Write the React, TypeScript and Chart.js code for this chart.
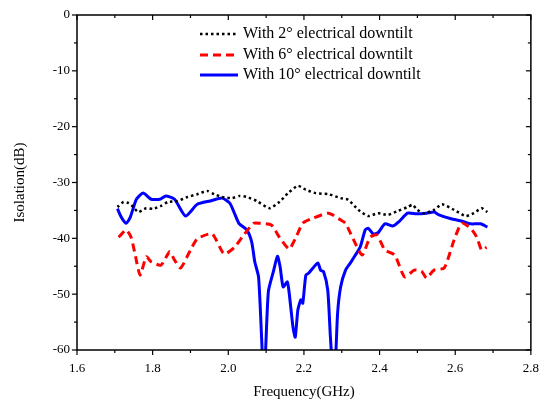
import React, { useEffect, useRef } from "react";
import { Chart, registerables } from "chart.js";

Chart.register(...registerables);

// ---- data (frequency in GHz, isolation in dB) ----
const freq2 = [1.707, 1.723, 1.736, 1.749, 1.762, 1.783, 1.801, 1.822, 1.840, 1.866, 1.892, 1.918, 1.944, 1.963, 1.984, 2.010, 2.030, 2.049, 2.075, 2.109, 2.135, 2.158, 2.184, 2.205, 2.231, 2.265, 2.297, 2.317, 2.344, 2.370, 2.396, 2.422, 2.448, 2.474, 2.487, 2.500, 2.518, 2.544, 2.565, 2.597, 2.628, 2.649, 2.670, 2.685];
const iso2 = [-34.4, -33.5, -33.7, -34.4, -35.3, -34.6, -34.7, -34.2, -33.5, -33.3, -32.6, -32.1, -31.5, -32.1, -32.6, -32.8, -32.4, -32.6, -33.3, -34.6, -33.5, -31.9, -30.6, -31.3, -31.9, -32.1, -32.8, -33.1, -34.9, -36.0, -35.5, -35.8, -35.1, -34.4, -34.0, -34.9, -35.5, -34.9, -33.9, -34.9, -36.0, -35.5, -34.6, -35.3];

const freq6 = [1.710, 1.730, 1.743, 1.754, 1.767, 1.783, 1.796, 1.822, 1.845, 1.858, 1.874, 1.900, 1.918, 1.957, 1.989, 2.015, 2.041, 2.067, 2.083, 2.114, 2.135, 2.161, 2.179, 2.197, 2.224, 2.265, 2.297, 2.310, 2.328, 2.354, 2.375, 2.393, 2.414, 2.440, 2.466, 2.492, 2.511, 2.524, 2.544, 2.571, 2.597, 2.617, 2.641, 2.657, 2.670, 2.683];
const iso6 = [-39.8, -38.5, -39.8, -43.0, -46.6, -43.3, -44.2, -44.8, -42.4, -43.9, -45.3, -42.1, -40.1, -39.2, -42.8, -41.7, -39.4, -37.3, -37.3, -37.6, -39.8, -41.9, -39.8, -37.3, -36.4, -35.5, -36.7, -37.3, -39.8, -43.0, -39.8, -39.4, -42.1, -43.0, -46.9, -45.7, -45.9, -47.1, -45.7, -45.3, -40.3, -37.3, -38.2, -39.8, -42.1, -41.6];

const freq10 = [1.707, 1.717, 1.730, 1.741, 1.757, 1.775, 1.796, 1.819, 1.835, 1.858, 1.887, 1.918, 1.952, 1.984, 2.004, 2.015, 2.028, 2.049, 2.062, 2.070, 2.080, 2.088, 2.093, 2.098, 2.106, 2.119, 2.130, 2.137, 2.145, 2.156, 2.161, 2.171, 2.177, 2.184, 2.192, 2.197, 2.205, 2.213, 2.224, 2.237, 2.244, 2.252, 2.263, 2.270, 2.278, 2.284, 2.289, 2.297, 2.310, 2.323, 2.336, 2.349, 2.362, 2.370, 2.383, 2.396, 2.414, 2.435, 2.453, 2.474, 2.497, 2.524, 2.544, 2.557, 2.589, 2.617, 2.641, 2.667, 2.685];
const iso10 = [-34.7, -36.2, -37.3, -36.2, -33.0, -31.9, -33.0, -33.0, -32.4, -33.0, -36.0, -33.9, -33.3, -32.8, -33.7, -35.3, -37.3, -38.5, -40.7, -44.2, -46.9, -57.7, -65.0, -61.0, -49.5, -46.0, -43.2, -45.1, -48.7, -47.8, -49.8, -55.9, -57.7, -52.8, -51.0, -51.6, -46.6, -46.2, -45.3, -44.4, -45.7, -46.0, -49.3, -57.7, -65.0, -61.0, -53.4, -48.7, -45.7, -44.4, -43.0, -41.5, -38.5, -38.2, -39.2, -39.0, -37.4, -37.8, -36.9, -35.5, -35.6, -35.5, -35.3, -35.8, -36.5, -36.9, -37.4, -37.4, -38.0];

const seriesNames = ["With 2\u00b0 electrical downtilt", "With 6\u00b0 electrical downtilt", "With 10\u00b0 electrical downtilt"];
const xTickLabels = [1.6, 1.8, 2.0, 2.2, 2.4, 2.6, 2.8];
const xMinorTicks = [1.7, 1.9, 2.1, 2.3, 2.5, 2.7];
const yTickLabels = [0, -10, -20, -30, -40, -50, -60];
const yMinorTicks = [-5, -15, -25, -35, -45, -55];

const SERIF = "'Liberation Serif', 'Times New Roman', serif";

const toPoints = (xs: number[], ys: number[]) => xs.map((x, i) => ({ x, y: ys[i] }));

const framePlugin = {
  id: "frameAndLegend",
  afterDraw(chart: any) {
    const { ctx, chartArea, scales } = chart;
    const { left, right, top, bottom } = chartArea;
    const xs = scales.x;
    const ys = scales.y;
    ctx.save();
    ctx.strokeStyle = "#000";
    ctx.lineWidth = 1.5;
    ctx.setLineDash([]);
    ctx.strokeRect(left, top, right - left, bottom - top);
    ctx.lineWidth = 1.2;
    const line = (x1: number, y1: number, x2: number, y2: number) => {
      ctx.beginPath();
      ctx.moveTo(x1, y1);
      ctx.lineTo(x2, y2);
      ctx.stroke();
    };
    xTickLabels.forEach((v) => {
      const px = xs.getPixelForValue(v);
      line(px, bottom, px, bottom + 5);
      line(px, top, px, top + 5);
    });
    xMinorTicks.forEach((v) => {
      const px = xs.getPixelForValue(v);
      line(px, bottom, px, bottom + 3);
      line(px, top, px, top + 3);
    });
    yTickLabels.forEach((v) => {
      const py = ys.getPixelForValue(v);
      line(left - 5, py, left, py);
      line(right - 5, py, right, py);
    });
    yMinorTicks.forEach((v) => {
      const py = ys.getPixelForValue(v);
      line(left - 3, py, left, py);
      line(right - 3, py, right, py);
    });

    // legend
    const rows = [34, 55, 75];
    chart.data.datasets.forEach((ds: any, i: number) => {
      const y = rows[i];
      ctx.strokeStyle = ds.borderColor;
      ctx.lineWidth = ds.borderWidth;
      ctx.setLineDash(ds.borderDash || []);
      line(200, y, 238, y);
      ctx.setLineDash([]);
      ctx.fillStyle = "#000";
      ctx.font = `16px ${SERIF}`;
      ctx.textAlign = "left";
      ctx.textBaseline = "middle";
      ctx.fillText(ds.label, 243, y);
    });
    ctx.restore();
  },
};

export default function App() {
  const ref = useRef<HTMLCanvasElement | null>(null);
  useEffect(() => {
    if (!ref.current) return;
    const chart = new Chart(ref.current, {
      type: "line",
      data: {
        datasets: [
          {
            label: seriesNames[0],
            data: toPoints(freq2, iso2),
            borderColor: "#000000",
            borderWidth: 2.5,
            borderDash: [2.5, 3],
            pointRadius: 0,
            tension: 0.2,
            clip: 0,
          },
          {
            label: seriesNames[1],
            data: toPoints(freq6, iso6),
            borderColor: "#ff0000",
            borderWidth: 3,
            borderDash: [8, 5],
            pointRadius: 0,
            tension: 0.2,
            clip: 0,
          },
          {
            label: seriesNames[2],
            data: toPoints(freq10, iso10),
            borderColor: "#0000ff",
            borderWidth: 3,
            pointRadius: 0,
            tension: 0.2,
            clip: 0,
          },
        ],
      },
      options: {
        animation: false,
        responsive: false,
        devicePixelRatio: 1,
        layout: { padding: { top: 15, right: 8, left: 0, bottom: 0 } },
        plugins: { legend: { display: false }, tooltip: { enabled: false } },
        scales: {
          x: {
            type: "linear",
            min: 1.6,
            max: 2.8,
            afterBuildTicks: (s: any) => {
              s.ticks = xTickLabels.map((v) => ({ value: v }));
            },
            afterFit: (s: any) => {
              s.height = 57;
            },
            grid: { display: false, drawTicks: true, tickLength: 5 },
            border: { display: false },
            ticks: {
              padding: 6,
              color: "#000",
              font: { family: SERIF, size: 13 },
              maxRotation: 0,
              callback: (v: any) => Number(v).toFixed(1),
            },
            title: {
              display: true,
              text: "Frequency(GHz)",
              color: "#000",
              font: { family: SERIF, size: 15 },
              padding: { top: 0, bottom: 6 },
            },
          },
          y: {
            type: "linear",
            min: -60,
            max: 0,
            afterBuildTicks: (s: any) => {
              s.ticks = yTickLabels.map((v) => ({ value: v }));
            },
            afterFit: (s: any) => {
              s.width = 77;
            },
            grid: { display: false, drawTicks: true, tickLength: 5 },
            border: { display: false },
            ticks: {
              padding: 2,
              color: "#000",
              font: { family: SERIF, size: 13 },
              callback: (v: any) => String(v),
            },
            title: {
              display: true,
              text: "Isolation(dB)",
              color: "#000",
              font: { family: SERIF, size: 15 },
              padding: { top: 11, bottom: 0 },
            },
          },
        },
      },
      plugins: [framePlugin],
    } as any);
    return () => chart.destroy();
  }, []);
  return (
    <div style={{ position: "fixed", left: 0, top: 0, width: 545, height: 407, background: "#fff" }}>
      <canvas ref={ref} width={545} height={407} style={{ width: 545, height: 407 }} />
    </div>
  );
}
